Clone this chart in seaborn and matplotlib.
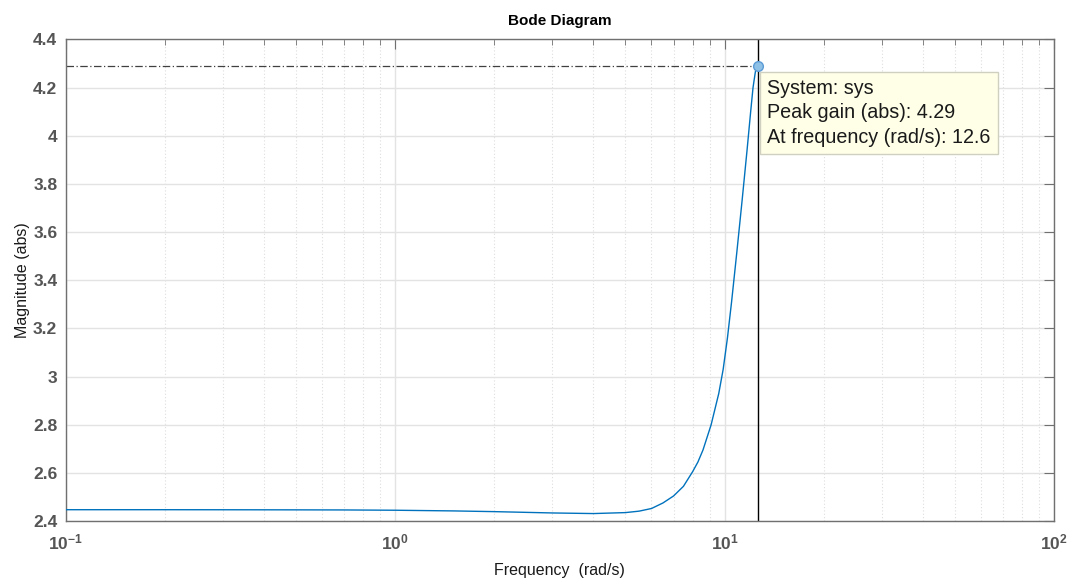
import numpy as np
import pandas as pd
import matplotlib
matplotlib.use("Agg")
import matplotlib.pyplot as plt
import seaborn as sns
from matplotlib.ticker import LogLocator, NullFormatter

# ---- data ----
freq = [0.1, 0.2, 0.3, 0.5, 0.7, 1.0, 1.5, 2.0, 3.0, 4.0, 5.0, 5.5, 6.0,
        6.5, 7.0, 7.5, 8.0, 8.3, 8.6, 9.1, 9.6, 9.9, 10.2, 10.5, 10.9, 11.3,
        11.7, 12.0, 12.2, 12.4, 12.6]
mag = [2.448, 2.448, 2.4478, 2.4474, 2.447, 2.4458, 2.443, 2.440, 2.4345,
       2.432, 2.436, 2.442, 2.453, 2.476, 2.505, 2.545, 2.606, 2.646, 2.696,
       2.800, 2.930, 3.030, 3.160, 3.310, 3.520, 3.730, 3.940, 4.100,
       4.200, 4.265, 4.29]
peak_freq = 12.6
peak_gain = 4.29
tip_lines = ["System: sys", "Peak gain (abs): 4.29", "At frequency (rad/s): 12.6"]
xtick_vals = [0.1, 1, 10, 100]
xtick_labels = [r"$\mathbf{10^{-1}}$", r"$\mathbf{10^{0}}$", r"$\mathbf{10^{1}}$", r"$\mathbf{10^{2}}$"]
ytick_vals = [2.4, 2.6, 2.8, 3.0, 3.2, 3.4, 3.6, 3.8, 4.0, 4.2, 4.4]
ytick_labels = ["2.4", "2.6", "2.8", "3", "3.2", "3.4", "3.6", "3.8", "4", "4.2", "4.4"]

sns.set_style("white")
plt.rcParams["font.family"] = ["Liberation Sans", "DejaVu Sans"]
plt.rcParams["mathtext.fontset"] = "custom"
plt.rcParams["mathtext.rm"] = "Liberation Sans"
plt.rcParams["mathtext.bf"] = "Liberation Sans:bold"

df = pd.DataFrame({"freq": freq, "mag": mag})

fig = plt.figure(figsize=(10.75, 5.79), dpi=100)
ax = fig.add_axes([0.0611, 0.0997, 0.9194, 0.8324])

ax.set_xscale("log")
ax.set_xlim(0.1, 100)
ax.set_ylim(2.4, 4.4)

# grid
ax.grid(True, which="major", color="#e3e3e3", linewidth=1.0, linestyle="-")
ax.xaxis.set_minor_locator(LogLocator(base=10, subs=np.arange(2, 10)))
ax.xaxis.set_minor_formatter(NullFormatter())
ax.grid(True, which="minor", axis="x", color="#dedede", linewidth=0.8, linestyle=(0, (1, 2)))
ax.set_axisbelow(True)

# reference lines
ax.axhline(peak_gain, xmax=(np.log10(peak_freq) + 1) / 3, color="#404040",
           linewidth=0.9, linestyle=(0, (6, 2, 1, 2)), zorder=2)
ax.axvline(peak_freq, color="black", linewidth=1.0, zorder=2)

sns.lineplot(data=df, x="freq", y="mag", ax=ax, color="#0072BD",
             linewidth=1.0, estimator=None, sort=True, zorder=3)

ax.plot([peak_freq], [peak_gain], marker="o", markersize=7,
        markerfacecolor="#8fc0e6", markeredgecolor="#5b9bd5", zorder=5)

ax.annotate("\n".join(tip_lines), xy=(peak_freq, peak_gain), xycoords="data",
            xytext=(7.0, -9.5), textcoords="offset points", ha="left", va="top",
            fontsize=14.2, linespacing=1.36, color="#1a1a1a", zorder=6,
            bbox=dict(boxstyle="square,pad=0.36", facecolor="#ffffe8",
                      edgecolor="#d0d0c0", linewidth=1.0))

ax.set_xticks(xtick_vals)
ax.set_xticklabels(xtick_labels)
ax.set_yticks(ytick_vals)
ax.set_yticklabels(ytick_labels)

ax.tick_params(axis="both", which="both", direction="in", top=True, right=True,
               colors="#707070", labelcolor="#555555")
ax.tick_params(axis="both", which="major", length=7.5, labelsize=12.5, pad=6)
ax.tick_params(axis="x", which="minor", length=4)
ax.tick_params(axis="x", which="major", pad=8)
for lbl in ax.get_yticklabels() + ax.get_xticklabels():
    lbl.set_fontweight("bold")

for sp in ax.spines.values():
    sp.set_color("#707070")
    sp.set_linewidth(1.0)

ax.set_title("Bode Diagram", fontsize=11, fontweight="bold", color="black", pad=10)
ax.set_xlabel("Frequency  (rad/s)", fontsize=11.5, color="#1a1a1a", labelpad=8)
ax.set_ylabel("Magnitude (abs)", fontsize=11.5, color="#1a1a1a", labelpad=2)

fig.savefig("out.png", dpi=100)
